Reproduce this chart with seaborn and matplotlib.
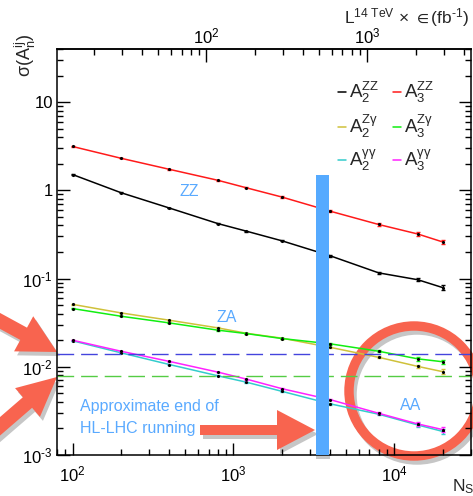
import numpy as np
import pandas as pd
import matplotlib
matplotlib.use('Agg')
import matplotlib.pyplot as plt
import seaborn as sns
from matplotlib.patches import Circle, FancyArrow, Rectangle
from matplotlib.ticker import FuncFormatter, LogLocator, NullFormatter

# number of signal events and the fitted uncertainties
n_signal = [100, 200, 400, 800, 1200, 2000, 4000, 8000, 14000, 20000]
a2_zz = [1.51, 0.94, 0.63, 0.42, 0.345, 0.268, 0.181, 0.116, 0.097, 0.079]
a3_zz = [3.14, 2.31, 1.73, 1.30, 1.07, 0.84, 0.58, 0.41, 0.32, 0.26]
a2_za = [0.051, 0.0408, 0.0337, 0.0276, 0.0240, 0.0211, 0.0166, 0.0128, 0.0101, 0.0088]
a3_za = [0.0457, 0.0374, 0.0314, 0.0260, 0.0238, 0.0209, 0.0182, 0.0150, 0.0123, 0.0114]
a2_aa = [0.0197, 0.0144, 0.0106, 0.0079, 0.0067, 0.00527, 0.0038, 0.0029, 0.00219, 0.00185]
a3_aa = [0.0200, 0.0150, 0.0115, 0.0087, 0.00726, 0.00565, 0.00424, 0.00297, 0.00225, 0.00194]
rel_err = [0.005, 0.006, 0.008, 0.010, 0.012, 0.015, 0.020, 0.030, 0.045, 0.060]

limit_blue = 0.0140
limit_green = 0.0079
hl_lhc_end = 3600      # N_S at end of HL-LHC
lumi_factor = 6.8      # N_S per fb^-1

series = [
    (r'$\mathregular{A_2^{ZZ}}$', a2_zz, 'black'),
    (r'$\mathregular{A_2^{Zγ}}$', a2_za, '#cfc13a'),
    (r'$\mathregular{A_2^{γγ}}$', a2_aa, '#33cccc'),
    (r'$\mathregular{A_3^{ZZ}}$', a3_zz, '#ff1a1a'),
    (r'$\mathregular{A_3^{Zγ}}$', a3_za, '#11ee11'),
    (r'$\mathregular{A_3^{γγ}}$', a3_aa, '#ff22ff'),
]

sns.set_theme(style='ticks')
plt.rcParams['font.family'] = ['Liberation Sans', 'DejaVu Sans']
plt.rcParams['mathtext.fontset'] = 'custom'
plt.rcParams['mathtext.rm'] = 'Liberation Sans'
plt.rcParams['mathtext.it'] = 'Liberation Sans:italic'
plt.rcParams['mathtext.fallback'] = 'stix'
plt.rcParams['axes.unicode_minus'] = False
plt.rcParams['axes.edgecolor'] = 'black'
plt.rcParams['xtick.color'] = 'black'
plt.rcParams['ytick.color'] = 'black'

HYPH = '\u2010'
W, H = 473, 496
fig = plt.figure(figsize=(W / 100, H / 100), dpi=100)


def px(x, y):
    return x / W, 1 - y / H


# overlay in pixel units for the drawn-on annotations
ov = fig.add_axes([0, 0, 1, 1], zorder=0)
ov.set_xlim(0, W)
ov.set_ylim(H, 0)
ov.axis('off')

ax = fig.add_axes([57 / W, 41 / H, 414 / W, 406 / H], zorder=1)
ax.patch.set_alpha(0)

for label, vals, col in series:
    sns.lineplot(x=n_signal, y=vals, ax=ax, color=col, lw=1.1, label=label)
    ax.errorbar(n_signal, vals, yerr=[v * e for v, e in zip(vals, rel_err)],
                fmt='none', ecolor=col, elinewidth=1, capsize=1.5)
    ax.plot(n_signal, vals, ls='none', marker='.', ms=2.5, color='black')

ax.axhline(limit_blue, color='#4444dd', lw=1.0, dashes=(12, 5))
ax.axhline(limit_green, color='#55cc44', lw=1.0, dashes=(12, 5))

ax.set_xscale('log')
ax.set_yscale('log')
ax.set_xlim(80, 30000)
ax.set_ylim(1e-3, 40)

# HL-LHC bar
ax.fill_between([hl_lhc_end / 1.097, hl_lhc_end * 1.097], 1e-3, 1.48,
                color='#55aaff', lw=0, zorder=5)


def power(v):
    e = int(round(np.log10(v)))
    s = str(abs(e))
    if e < 0:
        s = HYPH + s
    return r'$\mathregular{10^{%s}}$' % s


def yfmt(v, pos):
    if np.isclose(v, 1):
        return '1'
    if np.isclose(v, 10):
        return '10'
    return power(v)


def xfmt(v, pos):
    return power(v)


ax.yaxis.set_major_locator(LogLocator(base=10))
ax.yaxis.set_major_formatter(FuncFormatter(yfmt))
ax.xaxis.set_major_formatter(FuncFormatter(xfmt))
ax.xaxis.set_minor_formatter(NullFormatter())
ax.yaxis.set_minor_formatter(NullFormatter())
ax.tick_params(which='both', direction='in', right=True, top=False, labelsize=12, width=1.0)
ax.tick_params(which='major', length=9)
ax.tick_params(which='minor', length=4.5)
ax.tick_params(axis='x', which='major', pad=7)
ax.tick_params(axis='y', which='major', pad=3)
for s in ax.spines.values():
    s.set_linewidth(1.1)

sec = ax.secondary_xaxis('top', functions=(lambda n: n / lumi_factor, lambda l: l * lumi_factor))
sec.xaxis.set_major_formatter(FuncFormatter(xfmt))
sec.xaxis.set_minor_formatter(NullFormatter())
sec.tick_params(which='both', direction='in', labelsize=12, width=1.0, pad=2)
sec.tick_params(which='major', length=9)
sec.tick_params(which='minor', length=4.5)
sec.spines['top'].set_linewidth(1.1)

leg = ax.legend(ncol=2, frameon=False, loc='upper left',
                bbox_to_anchor=px(338, 80), bbox_transform=fig.transFigure,
                borderaxespad=0, borderpad=0, fontsize=13.5,
                handlelength=0.45, handletextpad=0.15, columnspacing=0.7,
                labelspacing=0.42)

# axis titles
fig.text(*px(25, 33), 'σ($\\mathregular{A_n^{ij}}$)', rotation=90, ha='center', va='top', fontsize=13)
fig.text(*px(469, 23), 'L$^{\\mathregular{14\\ TeV}}$ × $\\in$(fb$^{\\mathregular{%s1}}$)' % HYPH,
         ha='right', va='baseline', fontsize=12.5)
fig.text(*px(452, 491), 'N$_{\\mathregular{S}}$', ha='left', va='baseline', fontsize=12.5)

# annotations
blue = '#5aaaff'
fig.text(*px(189, 192), 'ZZ', color=blue, fontsize=11.5, ha='center', va='center')
fig.text(*px(227, 317), 'ZA', color=blue, fontsize=11.5, ha='center', va='center')
fig.text(*px(411, 405), 'AA', color=blue, fontsize=11.5, ha='center', va='center')
fig.text(*px(80, 407), 'Approximate end of', color=blue, fontsize=11.5, ha='left', va='center')
fig.text(*px(80, 429), 'HL-LHC running', color=blue, fontsize=11.5, ha='left', va='center')

red = '#f8644f'
shadow = '#c6c6c6'
arrows = [
    ((-39.6, 299.3), (57, 352), 14, 40, 38),
    ((-18.6, 442.4), (57, 377), 14, 38, 39),
    ((200, 430), (315, 430), 10, 40, 38),
]
for off, col in [((3, 4), shadow), ((0, 0), red)]:
    for (x0, y0), (x1, y1), w, hw, hl in arrows:
        ov.add_patch(FancyArrow(x0 + off[0], y0 + off[1], x1 - x0, y1 - y0, width=w,
                                head_width=hw, head_length=hl, length_includes_head=True,
                                color=col, lw=0))
    ov.add_patch(Circle((414 + off[0], 391 + off[1]), 65, fill=False, ec=col, lw=6.8))
ov.add_patch(Rectangle((316, 455), 14, 4, color=shadow, lw=0))

fig.savefig('out.png', dpi=100)
